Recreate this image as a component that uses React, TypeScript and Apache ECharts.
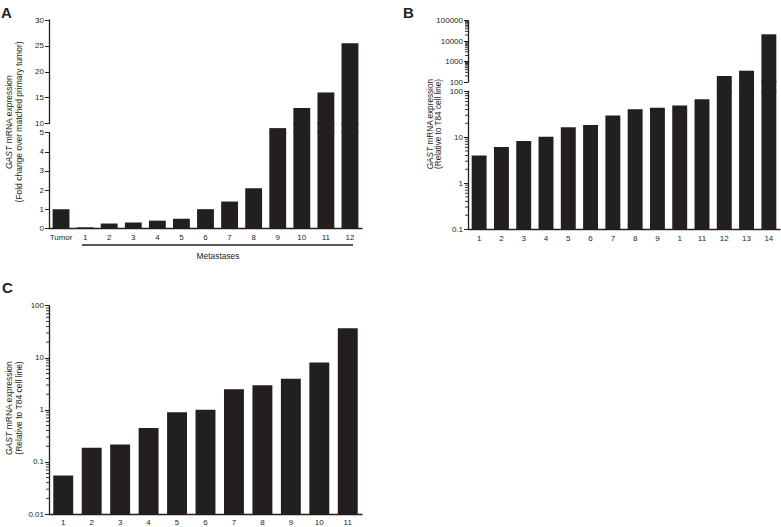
import React, { useEffect, useRef } from "react";
import * as echarts from "echarts";

// ---------- data ----------
const aCategories = ["Tumor", "1", "2", "3", "4", "5", "6", "7", "8", "9", "10", "11", "12"];
const aValues = [1.0, 0.05, 0.25, 0.3, 0.4, 0.5, 1.0, 1.4, 2.1, 7.5, 13, 16, 25.5];
const aUpperTicks = [10, 15, 20, 25, 30];
const aLowerTicks = [0, 1, 2, 3, 4, 5];

const bCategories = ["1", "2", "3", "4", "5", "6", "7", "8", "9", "1", "11", "12", "13", "14"];
const bValues = [4, 6.1, 8.2, 10.2, 16.5, 18.3, 29.7, 40.5, 43.4, 48.9, 66.8, 197, 357, 21600];
const bUpperTicks = [100, 1000, 10000, 100000];
const bLowerTicks = [0.1, 1, 10, 100];

const cCategories = ["1", "2", "3", "4", "5", "6", "7", "8", "9", "10", "11"];
const cValues = [0.055, 0.188, 0.215, 0.45, 0.9, 1.0, 2.5, 2.98, 3.95, 8.1, 37];
const cTicks = [0.01, 0.1, 1, 10, 100];

// ---------- style ----------
const INK = "#231f20";
const FONT = "'Liberation Sans', Arial, Helvetica, sans-serif";

const grids = [
  { left: 49, top: 20, width: 313, height: 103.5 }, // A upper
  { left: 49, top: 123.5, width: 313, height: 9.2 }, // A gap
  { left: 49, top: 132.7, width: 313, height: 95.6 }, // A lower
  { left: 468, top: 20.7, width: 312, height: 61.3 }, // B upper
  { left: 468, top: 82, width: 312, height: 9.2 }, // B gap
  { left: 468, top: 91.2, width: 312, height: 137.8 }, // B lower
  { left: 49, top: 305.7, width: 313, height: 208.3 }, // C
];

const fmt = (v: number) => String(Number(Number(v).toPrecision(6)));

const makeRender = (base: number, ratio: number) => (params: any, api: any) => {
  const i = api.value(0);
  const v = api.value(1);
  const p1 = api.coord([i, v]);
  const p0 = api.coord([i, base]);
  const w = api.size([1, 0])[0] * ratio;
  const cs = params.coordSys;
  const shape = echarts.graphic.clipRectByRect(
    { x: p1[0] - w / 2, y: p1[1], width: w, height: p0[1] - p1[1] },
    { x: cs.x, y: cs.y - 0.7, width: cs.width, height: cs.height + 1.4 }
  );
  if (!shape) return null;
  return { type: "rect", shape, style: { fill: INK } };
};

const hiddenX = (gridIndex: number, data: string[]) => ({
  type: "category",
  gridIndex,
  data,
  show: false,
});

const shownX = (gridIndex: number, data: string[], margin: number) => ({
  type: "category",
  gridIndex,
  data,
  axisLine: { lineStyle: { color: INK, width: 1.3 } },
  axisTick: { alignWithLabel: true, length: 3, lineStyle: { color: INK, width: 1 } },
  axisLabel: { color: INK, fontSize: 8, fontFamily: FONT, margin, interval: 0 },
  splitLine: { show: false },
});

const yAxisCommon = {
  axisLine: { show: true, lineStyle: { color: INK, width: 1.3 } },
  axisTick: { show: true, length: 4, lineStyle: { color: INK, width: 1 } },
  axisLabel: { color: INK, fontSize: 8, fontFamily: FONT, margin: 5, formatter: fmt },
  splitLine: { show: false },
};

const linY = (gridIndex: number, ticks: number[]) => ({
  type: "value",
  gridIndex,
  min: ticks[0],
  max: ticks[ticks.length - 1],
  interval: ticks[1] - ticks[0],
  ...yAxisCommon,
});

const logY = (gridIndex: number, ticks: number[]) => ({
  type: "log",
  logBase: 10,
  gridIndex,
  min: ticks[0],
  max: ticks[ticks.length - 1],
  ...yAxisCommon,
});

const toData = (vals: number[]) => vals.map((v, i) => [i, v]);

const customSeries = (axisIndex: number, vals: number[], base: number, ratio: number) => ({
  type: "custom",
  xAxisIndex: axisIndex,
  yAxisIndex: axisIndex,
  data: toData(vals),
  encode: { x: 0, y: 1 },
  renderItem: makeRender(base, ratio),
  silent: true,
});

const option: any = {
  animation: false,
  backgroundColor: "#ffffff",
  grid: grids.map((g) => ({ ...g, containLabel: false, outerBoundsMode: "none" })),
  xAxis: [
    hiddenX(0, aCategories),
    hiddenX(1, aCategories),
    shownX(2, aCategories, 5),
    hiddenX(3, bCategories),
    hiddenX(4, bCategories),
    shownX(5, bCategories, 5),
    shownX(6, cCategories, 4),
  ],
  yAxis: [
    linY(0, aUpperTicks),
    { type: "value", gridIndex: 1, min: 5, max: 10, show: false },
    linY(2, aLowerTicks),
    logY(3, bUpperTicks),
    { type: "log", gridIndex: 4, min: 99, max: 100, show: false },
    logY(5, bLowerTicks),
    logY(6, cTicks),
  ],
  series: [
    customSeries(0, aValues, 0, 0.7),
    customSeries(1, aValues, 0, 0.7),
    customSeries(2, aValues, 0, 0.7),
    customSeries(3, bValues, 0.001, 0.67),
    customSeries(4, bValues, 0.001, 0.67),
    customSeries(5, bValues, 0.001, 0.67),
    customSeries(6, cValues, 0.0001, 0.7),
  ],
};

const yTitle = (x: number, y: number, second: string, size: number, lh: number) => ({
  type: "text",
  x,
  y,
  rotation: Math.PI / 2,
  silent: true,
  style: {
    text: "{i|GAST} mRNA expression\n" + second,
    rich: { i: { fontStyle: "italic", fontSize: size, fontFamily: FONT, fill: INK, lineHeight: lh } },
    fontSize: size,
    fontFamily: FONT,
    lineHeight: lh,
    fill: INK,
    align: "center",
    verticalAlign: "middle",
  },
});

const panelLabel = (text: string, x: number, y: number) => ({
  type: "text",
  x,
  y,
  silent: true,
  style: {
    text,
    fontSize: 15,
    fontWeight: "bold",
    fontFamily: FONT,
    fill: INK,
    align: "left",
    verticalAlign: "middle",
  },
});

const baseGraphics: any[] = [
  panelLabel("A", 1, 12),
  panelLabel("B", 403, 12),
  panelLabel("C", 2, 287),
  yTitle(13.5, 122, "(Fold change over matched primary tumor)", 8.5, 10),
  yTitle(434.5, 124, "(Relative to T84 cell line)", 8.2, 8.5),
  yTitle(13.5, 408, "(Relative to T84 cell line)", 8.5, 10),
  {
    type: "line",
    silent: true,
    shape: { x1: 82, y1: 245, x2: 353, y2: 245 },
    style: { stroke: INK, lineWidth: 1.3 },
  },
  {
    type: "text",
    x: 218,
    y: 256,
    silent: true,
    style: {
      text: "Metastases",
      fontSize: 8.4,
      fontFamily: FONT,
      fill: INK,
      align: "center",
      verticalAlign: "middle",
    },
  },
];

// minor log ticks (2..9 of each decade) as polylines of short horizontal strokes
function minorTickGraphics(gi: number, ticks: number[]): any[] {
  const g = grids[gi];
  const lo = Math.log10(ticks[0]);
  const hi = Math.log10(ticks[ticks.length - 1]);
  const out: any[] = [];
  for (let t = 0; t < ticks.length - 1; t++) {
    for (let k = 2; k <= 9; k++) {
      const v = ticks[t] * k;
      const y = g.top + (g.height * (hi - Math.log10(v))) / (hi - lo);
      out.push({
        type: "rect",
        silent: true,
        z: 50,
        shape: { x: g.left - 3, y: y - 0.45, width: 3, height: 0.9 },
        style: { fill: INK },
      });
    }
  }
  return out;
}

export default function App() {
  const ref = useRef<HTMLDivElement>(null);
  useEffect(() => {
    if (!ref.current) return;
    const chart = echarts.init(ref.current, null, { renderer: "svg" });
    const minor = [
      ...minorTickGraphics(3, bUpperTicks),
      ...minorTickGraphics(5, bLowerTicks),
      ...minorTickGraphics(6, cTicks),
    ];
    chart.setOption({ ...option, graphic: [...baseGraphics, ...minor] });
    return () => chart.dispose();
  }, []);
  return (
    <div
      ref={ref}
      style={{ position: "absolute", left: 0, top: 0, width: 781, height: 527, background: "#fff" }}
    />
  );
}
